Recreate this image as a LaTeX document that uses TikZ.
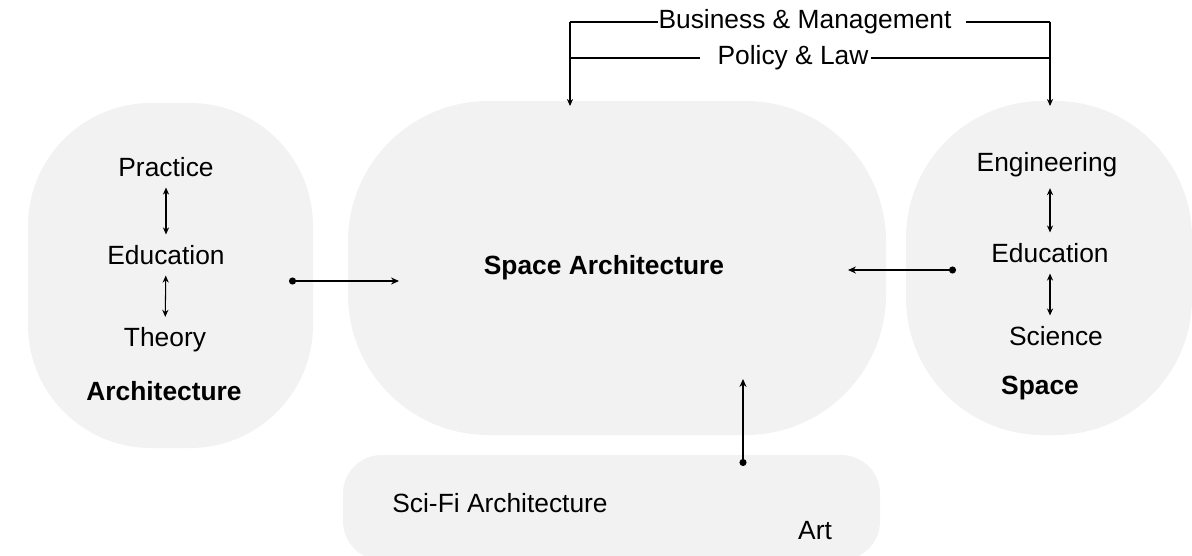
\documentclass[tikz,border=0pt]{standalone}
\usepackage{fontspec}
\setmainfont{Liberation Sans}
\usetikzlibrary{arrows.meta}
\definecolor{boxgray}{HTML}{F2F2F2}
\tikzset{
  field/.style={fill=boxgray, draw=none},
  lbl/.style={inner sep=0pt, font=\fontsize{15}{18}\selectfont},
  title/.style={lbl, font=\fontsize{15}{18}\selectfont\bfseries},
  link/.style={line width=0.7pt, {Circle[length=4pt]}-{Stealth[length=4.5pt,width=4pt]}},
  both/.style={line width=0.6pt, {Stealth[length=4pt,width=3.5pt]}-{Stealth[length=4pt,width=3.5pt]}, shorten <=6pt, shorten >=6pt},
  feed/.style={line width=0.6pt}
}
\begin{document}
\begin{tikzpicture}[x=0.02cm, y=-0.02cm]
\useasboundingbox (0,0) rectangle (1192,555);
% background fields
\fill [field, rounded corners=70] (28,103) rectangle (313,448);
\fill [field, rounded corners=80] (348,101) rectangle (886,435);
\fill [field, rounded corners=78] (906,101) rectangle (1192,435);
\fill [field, rounded corners=22] (343,455) rectangle (880,560);

% architecture side
\node [lbl] (practice) at (166,167) {Practice};
\node [lbl] (aedu) at (166,255) {Education};
\node [lbl] (theory) at (165,340) {Theory};
\node [title] (arch) at (164,391) {Architecture};
\draw [both] (practice) -- (aedu);
\draw [both] (aedu) -- (theory);

% space side
\node [lbl] (eng) at (1047,165) {Engineering};
\node [lbl] (sedu) at (1050,253) {Education};
\node [lbl] (sci) at (1056,336) {Science};
\node [title] (space) at (1040,388) {Space};
\draw [both] (eng.south -| sedu) -- (sedu);
\draw [both] (sedu) -- (sedu |- sci.north);

% centre
\node [title] (spacearch) at (604,268) {Space Architecture};
\node [lbl] (scifi) at (500,503) {Sci-Fi Architecture};
\node [lbl] (art) at (815,531) {Art};

\coordinate (archout) at (289,281);
\coordinate (archin) at (399,281);
\coordinate (spaceout) at (956,270);
\coordinate (spacein) at (848,270);
\coordinate (artout) at (743,466);
\coordinate (artin) at (743,379);
\draw [link] (archout) -- (archin);
\draw [link] (spaceout) -- (spacein);
\draw [link] (artout) -- (artin);

% top feeds
\node [lbl] (business) at (805,22) {Business \& Management};
\node [lbl] (policy) at (793,58) {Policy \& Law};
\coordinate (lefttop) at (570,22);
\coordinate (leftdown) at (570,106);
\coordinate (righttop) at (1050,22);
\coordinate (rightdown) at (1050,106);
\draw [feed] (business.west) -- (lefttop);
\draw [feed] ([xshift=8pt]business.east) -- (righttop);
\draw [feed] ([xshift=-10pt]policy.west) -- (policy.west -| lefttop);
\draw [feed] ([xshift=1pt]policy.east) -- (policy.east -| righttop);
\draw [feed, -{Stealth[length=4pt,width=3.5pt]}] (lefttop) -- (leftdown);
\draw [feed, -{Stealth[length=4pt,width=3.5pt]}] (righttop) -- (rightdown);
\end{tikzpicture}
\end{document}
